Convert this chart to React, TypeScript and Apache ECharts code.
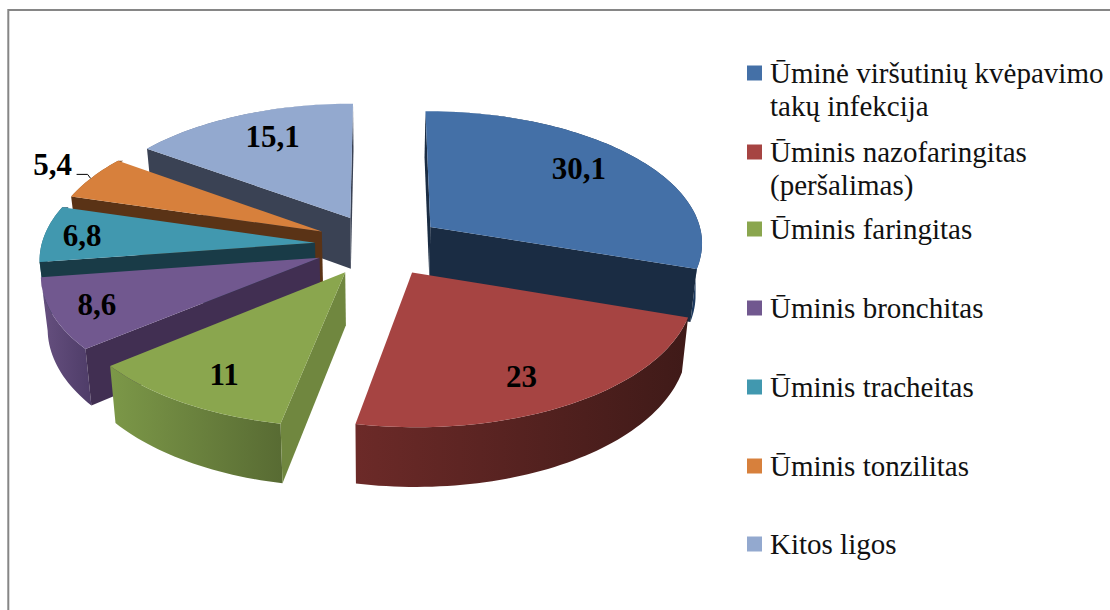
import React, { useEffect, useRef } from "react";
import * as echarts from "echarts";

const categories = [
  "Ūminė viršutinių kvėpavimo\ntakų infekcija",
  "Ūminis nazofaringitas\n(peršalimas)",
  "Ūminis faringitas",
  "Ūminis bronchitas",
  "Ūminis tracheitas",
  "Ūminis tonzilitas",
  "Kitos ligos",
];
const values = [30.1, 23, 11, 8.6, 6.8, 5.4, 15.1];
const valueLabels = ["30,1", "23", "11", "8,6", "6,8", "5,4", "15,1"];

const topColors = ["#4470A7", "#A64442", "#8AA64E", "#71588F", "#4198AF", "#D7803C", "#93A9CF"];
const faceColors = ["#1A2C43", "#421C1A", "#70873F", "#412F52", "#193B47", "#5A3316", "#3A4254"];
const wallColors: [string, string][] = [
  ["#1A2C43", "#1D3A5F"],
  ["#6C2A28", "#3F1A18"],
  ["#7C9848", "#586B33"],
  ["#66507F", "#4E3C68"],
  ["#2F6E80", "#25576A"],
  ["#A0602C", "#7C4A20"],
  ["#6F80A0", "#5A6A88"],
];
const paintOrder = [0, 6, 5, 4, 3, 2, 1];
const labelRadius = [0.7, 0.77, 0.8, 0.84, 0.84, 1.24, 0.72];
const labelShift = [[4, -8], [-10, 5], [6, 0], [0, 0], [-6, 0], [13, -1], [3, -6]];
const legendRowY = [73, 152, 229, 308, 387, 466, 544];

const CX = 379, CY = 245, AX = 273.5, AY = 132, PERSP = 0.107, EXPLODE = 0.235, DEPTH = 52, CONVERGE = 0.98;

function project(x: number, z: number) {
  const s = 1 / (1 + PERSP * z);
  return { x: CX + AX * x * s, y: CY - AY * z * s, s };
}

function slicePoint(mid: number, angle: number, r: number) {
  const x = EXPLODE * Math.sin(mid) + r * Math.sin(angle);
  const z = EXPLODE * Math.cos(mid) + r * Math.cos(angle);
  return project(x, z);
}

const total = values.reduce((a, b) => a + b, 0);
const starts: number[] = [];
values.reduce((acc, v, i) => {
  starts[i] = acc;
  return acc + v;
}, 0);

function renderSlice(_params: any, api: any) {
  const i = api.value(0) as number;
  const a0 = (starts[i] / total) * Math.PI * 2;
  const a1 = ((starts[i] + values[i]) / total) * Math.PI * 2;
  const mid = (a0 + a1) / 2;
  const n = Math.max(8, Math.round((a1 - a0) * 40));
  const arc: any[] = [];
  const angles: number[] = [];
  for (let k = 0; k <= n; k++) {
    const a = a0 + ((a1 - a0) * k) / n;
    angles.push(a);
    arc.push(slicePoint(mid, a, 1));
  }
  const apex = slicePoint(mid, 0, 0);
  const top = (p: any) => [p.x, p.y];
  const bot = (p: any, t = 1) => [CX + (p.x - CX) * CONVERGE, p.y + DEPTH * p.s * t];
  const faceEl = (p: any) => ({
    type: "polygon",
    shape: { points: [top(apex), top(p), bot(p), bot(apex)] },
    style: { fill: faceColors[i] },
  });
  const faceVisible = (p: any, q: any) => {
    const ex = p.x - apex.x, ey = p.y - apex.y;
    const ox = q.x - apex.x, oy = q.y - apex.y;
    return Math.sign(ex) !== Math.sign(ex * oy - ey * ox);
  };
  const wallBottom = arc.map((p, k) =>
    bot(p, Math.min(1, Math.max(0, -Math.cos(angles[k])) / 0.14)),
  );
  const children: any[] = [
    {
      type: "polygon",
      shape: { points: [...arc.map(top), ...wallBottom.slice().reverse()] },
      style: {
        fill: new echarts.graphic.LinearGradient(0, 0, 1, 0, [
          { offset: 0, color: wallColors[i][0] },
          { offset: 1, color: wallColors[i][1] },
        ]),
      },
    },
  ];
  if (faceVisible(arc[0], arc[n])) children.push(faceEl(arc[0]));
  if (faceVisible(arc[n], arc[0])) children.push(faceEl(arc[n]));
  children.push({
    type: "polygon",
    shape: { points: [top(apex), ...arc.map(top)] },
    style: { fill: topColors[i] },
  });
  const lp0 = slicePoint(mid, mid, labelRadius[i]);
  const lp = { x: lp0.x + labelShift[i][0], y: lp0.y + labelShift[i][1] };
  children.push({
    type: "text",
    x: lp.x,
    y: lp.y,
    style: {
      text: valueLabels[i],
      fill: "#000",
      font: 'bold 31px "Liberation Serif"',
      align: "center",
      verticalAlign: "middle",
    },
  });
  if (labelRadius[i] > 1) {
    children.push({
      type: "polyline",
      shape: { points: [[lp.x + 24, lp.y + 10], [lp.x + 35, lp.y + 10], [lp.x + 38, lp.y + 14]] },
      style: { stroke: "#000", lineWidth: 1, fill: "none" },
    });
  }
  return { type: "group", children };
}

export default function App() {
  const ref = useRef<HTMLDivElement>(null);
  useEffect(() => {
    document.body.style.margin = "0";
    const chart = echarts.init(ref.current!, undefined, { renderer: "svg" });
    const legendItems: any[] = [];
    categories.forEach((name, i) => {
      legendItems.push({
        type: "rect",
        shape: { x: 747, y: legendRowY[i] - 7.5, width: 15, height: 15 },
        style: { fill: topColors[i] },
      });
      legendItems.push({
        type: "text",
        x: 770,
        y: legendRowY[i] - 17,
        style: {
          text: name,
          fill: "#111",
          font: '29px "Liberation Serif"',
          lineHeight: 33,
        },
      });
    });
    chart.setOption({
      animation: false,
      backgroundColor: "#fff",
      graphic: [
        {
          type: "rect",
          shape: { x: 8.3, y: 10, width: 1110, height: 610 },
          style: { fill: "none", stroke: "#868686", lineWidth: 2 },
          silent: true,
        },
        ...legendItems,
      ],
      series: [
        {
          type: "custom",
          coordinateSystem: "none",
          renderItem: renderSlice,
          data: paintOrder.map((i) => ({ name: categories[i], value: [i, values[i]] })),
        },
      ],
    });
    return () => chart.dispose();
  }, []);
  return <div ref={ref} style={{ width: 1110, height: 610 }} />;
}
